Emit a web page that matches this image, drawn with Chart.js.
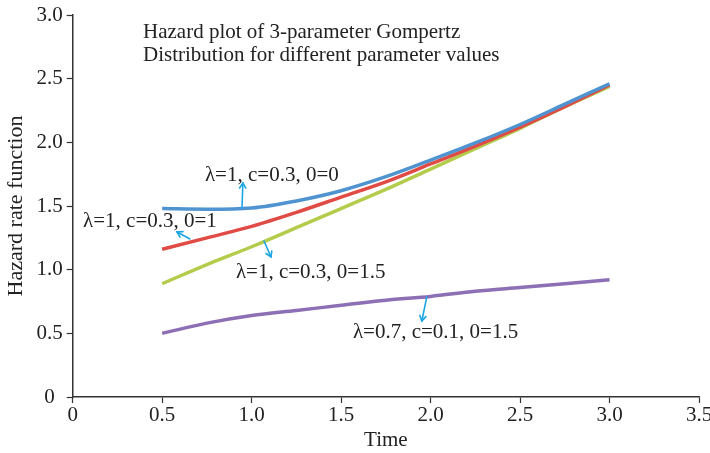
<!DOCTYPE html>
<html><head><meta charset="utf-8">
<script src="https://cdn.jsdelivr.net/npm/chart.js@4.4.1/dist/chart.umd.min.js"></script>
<style>html,body{margin:0;padding:0;background:#fff}#wrap{width:710px;height:453px}</style>
</head><body><div id="wrap"><canvas id="c" width="710" height="453"></canvas></div>
<script>
// ---- data ----
const times = [0.5, 0.75, 1.0, 1.25, 1.5, 1.75, 2.0, 2.25, 2.5, 2.75, 3.0];
const hazardL1c03t0   = [1.48, 1.475, 1.485, 1.54, 1.62, 1.73, 1.86, 1.995, 2.14, 2.30, 2.46];
const hazardL1c03t1   = [1.16, 1.25, 1.34, 1.45, 1.57, 1.69, 1.83, 1.97, 2.12, 2.28, 2.45];
const hazardL1c03t15  = [0.89, 1.04, 1.18, 1.33, 1.48, 1.63, 1.79, 1.95, 2.11, 2.28, 2.44];
const hazardL07c01t15 = [0.50, 0.58, 0.64, 0.68, 0.72, 0.76, 0.79, 0.83, 0.86, 0.89, 0.92];
const seriesNames = ['λ=1, c=0.3, 0=0', 'λ=1, c=0.3, 0=1', 'λ=1, c=0.3, 0=1.5', 'λ=0.7, c=0.1, 0=1.5'];
const xTickLabels = ['0', '0.5', '1.0', '1.5', '2.0', '2.5', '3.0', '3.5'];
const yTickLabels = ['0', '0.5', '1.0', '1.5', '2.0', '2.5', '3.0'];
const titleLines = ['Hazard plot of 3-parameter Gompertz', 'Distribution for different parameter values'];
// annotation anchors in data units
const labelX = [0.739, 0.058, 0.912, 1.566];
const labelY = [1.736, 1.375, 0.974, 0.503];
const arrowFromX = [0.946, 0.655, 1.069, 1.979];
const arrowFromY = [1.485, 1.241, 1.225, 0.786];
const arrowToX = [0.951, 0.583, 1.108, 1.951];
const arrowToY = [1.681, 1.296, 1.100, 0.597];
const titleX = 0.393;
const titleY = [2.86, 2.68];

const FONT = "'Liberation Serif', 'Times New Roman', serif";
const colors = ['#4f94d0', '#e04b45', '#b4cc4c', '#8c6fb5'];
const allSeries = [hazardL1c03t0, hazardL1c03t1, hazardL1c03t15, hazardL07c01t15];

const datasets = allSeries.map((vals, i) => ({
  label: seriesNames[i],
  data: times.map((t, j) => ({x: t, y: vals[j]})),
  borderColor: colors[i],
  borderWidth: 3.5,
  pointRadius: 0,
  fill: false,
  cubicInterpolationMode: 'monotone'
}));

const annot = {
  id: 'annot',
  afterDatasetsDraw(chart) {
    const {ctx, scales: {x, y}} = chart;
    ctx.save();
    ctx.fillStyle = '#222';
    ctx.textBaseline = 'middle';
    ctx.textAlign = 'left';
    ctx.font = '21px ' + FONT;
    titleLines.forEach((t, i) => ctx.fillText(t, x.getPixelForValue(titleX), y.getPixelForValue(titleY[i])));
    seriesNames.forEach((t, i) => ctx.fillText(t, x.getPixelForValue(labelX[i]), y.getPixelForValue(labelY[i])));
    ctx.strokeStyle = '#1ba5e4';
    ctx.lineWidth = 1.6;
    ctx.lineCap = 'round';
    for (let i = 0; i < arrowFromX.length; i++) {
      const x1 = x.getPixelForValue(arrowFromX[i]), y1 = y.getPixelForValue(arrowFromY[i]);
      const x2 = x.getPixelForValue(arrowToX[i]), y2 = y.getPixelForValue(arrowToY[i]);
      ctx.beginPath(); ctx.moveTo(x1, y1); ctx.lineTo(x2, y2); ctx.stroke();
      const a = Math.atan2(y2 - y1, x2 - x1), h = 6;
      ctx.beginPath();
      ctx.moveTo(x2 - h * Math.cos(a - 0.55), y2 - h * Math.sin(a - 0.55));
      ctx.lineTo(x2, y2);
      ctx.lineTo(x2 - h * Math.cos(a + 0.55), y2 - h * Math.sin(a + 0.55));
      ctx.stroke();
    }
    ctx.restore();
  }
};

new Chart(document.getElementById('c'), {
  type: 'line',
  data: {datasets},
  plugins: [annot],
  options: {
    responsive: false,
    animation: false,
    devicePixelRatio: 1,
    layout: {padding: {left: 0, top: 15, right: 11, bottom: 0}},
    plugins: {legend: {display: false}, tooltip: {enabled: false}},
    scales: {
      x: {
        type: 'linear', min: 0, max: 3.5,
        afterBuildTicks(s) { s.ticks = xTickLabels.map(v => ({value: parseFloat(v)})); },
        ticks: {callback: (v, i) => xTickLabels[i], font: {family: FONT, size: 21}, color: '#222', padding: 0, maxRotation: 0, autoSkip: false},
        border: {display: true, color: '#333', width: 1.5},
        grid: {display: true, drawOnChartArea: false, drawTicks: true, tickLength: 6, color: '#333', tickWidth: 1.2},
        title: {display: true, text: 'Time', font: {family: FONT, size: 21}, color: '#222', padding: {top: 0, bottom: 0}},
        afterFit(s) { s.height = 56; s.paddingLeft = 0; s.paddingRight = 0; }
      },
      y: {
        type: 'linear', min: 0, max: 3,
        afterBuildTicks(s) { s.ticks = yTickLabels.map(v => ({value: parseFloat(v)})); },
        ticks: {callback: (v, i) => yTickLabels[i], font: {family: FONT, size: 21}, color: '#222', padding: 4, crossAlign: 'center', autoSkip: false},
        border: {display: true, color: '#333', width: 1.5},
        grid: {display: true, drawOnChartArea: false, drawTicks: true, tickLength: 6, color: '#333', tickWidth: 1.2},
        title: {display: true, text: 'Hazard rate function', font: {family: FONT, size: 22}, color: '#222', padding: {top: 3, bottom: 0}},
        afterFit(s) { s.width = 72.7; s.paddingTop = 0; s.paddingBottom = 0; }
      }
    }
  }
});
</script>
</body></html>
